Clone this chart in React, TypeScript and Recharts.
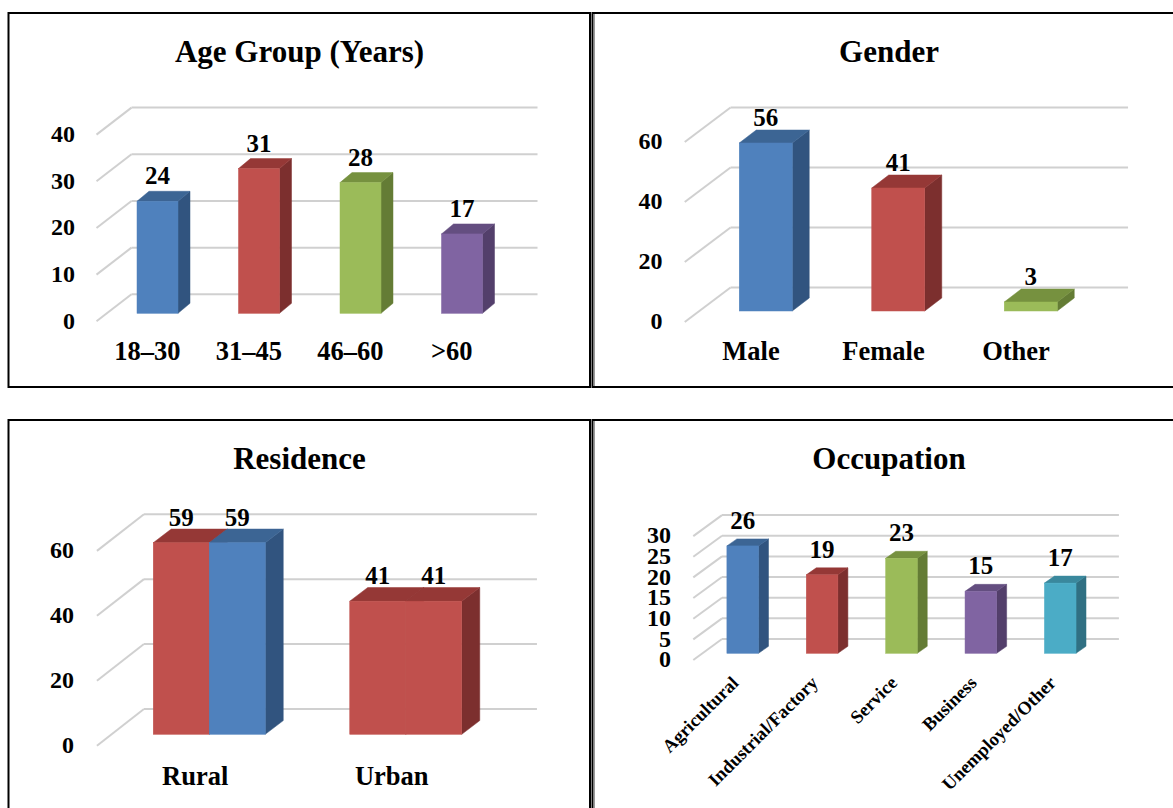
import React from 'react';
import { BarChart, Bar, XAxis, YAxis, CartesianGrid, LabelList } from 'recharts';

// ---------- data ----------
const ageCategories = ['18–30', '31–45', '46–60', '>60'];
const ageValues = [24, 31, 28, 17];
const ageTicks = [0, 10, 20, 30, 40];

const genderCategories = ['Male', 'Female', 'Other'];
const genderValues = [56, 41, 3];
const genderTicks = [0, 20, 40, 60];

const residenceCategories = ['Rural', 'Urban'];
const residenceSeriesA = [59, 41];
const residenceSeriesB = [59, 41];
const residenceTicks = [0, 20, 40, 60];

const occupationCategories = ['Agricultural', 'Industrial/Factory', 'Service', 'Business', 'Unemployed/Other'];
const occupationValues = [26, 19, 23, 15, 17];
const occupationTicks = [0, 5, 10, 15, 20, 25, 30];

// ---------- styles ----------
const FONT = '"Liberation Serif", "Times New Roman", Times, serif';
const BLUE = { front: '#4F81BD', top: '#3C6594', side: '#31547F' };
const RED = { front: '#C0504D', top: '#953836', side: '#7C2F2E' };
const GREEN = { front: '#9BBB59', top: '#76913F', side: '#647C35' };
const PURPLE = { front: '#8064A2', top: '#644E80', side: '#533F6B' };
const TEAL = { front: '#4BACC6', top: '#3A889D', side: '#307083' };
const GRID = '#D0D0D0';

type Pal = { front: string; top: string; side: string };

type Cfg = {
  box: { l: number; t: number; w: number; h: number };
  plot: { l: number; r: number; t: number; b: number };
  front: [number, number];
  back: [number, number];
  depth: [number, number];
  barSize: number;
  yLabelRight: number;
  xBaseline: number;
  rotateX?: boolean;
};

function Box3D(props: any) {
  const { x, y, width, height, pal, dx, dy } = props;
  const X = Number(x), Y = Number(y), W = Number(width), H = Math.max(Number(height), 0);
  if (!(W > 0)) return null;
  return (
    <g>
      <polygon
        points={`${X + W},${Y} ${X + W + dx},${Y - dy} ${X + W + dx},${Y + H - dy} ${X + W},${Y + H}`}
        fill={pal.side}
        stroke={pal.side}
        strokeWidth={0.5}
      />
      <polygon
        points={`${X},${Y} ${X + dx},${Y - dy} ${X + W + dx},${Y - dy} ${X + W},${Y}`}
        fill={pal.top}
        stroke={pal.top}
        strokeWidth={0.5}
      />
      <rect x={X} y={Y} width={W} height={H} fill={pal.front} stroke={pal.front} strokeWidth={0.5} />
    </g>
  );
}

type SeriesDef = { key: string; palettes: Pal[] };

function Chart3D({
  cfg,
  data,
  series,
  ticks,
}: {
  cfg: Cfg;
  data: any[];
  series: SeriesDef[];
  ticks: number[];
}) {
  const { box, plot, front, back, depth } = cfg;
  const YW = 1;
  const XH = 1;
  const margin = {
    left: plot.l - box.l - YW,
    right: box.l + box.w - plot.r,
    top: plot.t - box.t,
    bottom: box.t + box.h - plot.b - XH,
  };
  const [fx, fy] = front;
  const [bx, by] = back;

  const gridLine = (p: any) => {
    const x1 = Number(p.x1), x2 = Number(p.x2), y1 = Number(p.y1);
    return (
      <g key={p.key ?? `gl-${p.index}`}>
        <line x1={x1 + fx} y1={y1 + fy} x2={x1 + bx} y2={y1 + by} stroke={GRID} strokeWidth={2} />
        <line x1={x1 + bx} y1={y1 + by} x2={x2 + bx} y2={y1 + by} stroke={GRID} strokeWidth={2} />
      </g>
    );
  };

  const yTick = (p: any) => (
    <text
      x={cfg.yLabelRight - box.l}
      y={Number(p.y) + fy + 7.3}
      textAnchor="end"
      fontFamily={FONT}
      fontWeight="bold"
      fontSize={24}
      fill="#000"
    >
      {p.payload.value}
    </text>
  );

  const xTick = (p: any) => {
    if (cfg.rotateX) {
      const ax = Number(p.x) - 3;
      const ay = 684 - box.t;
      return (
        <text
          x={ax}
          y={ay}
          textAnchor="end"
          transform={`rotate(-45 ${ax} ${ay})`}
          fontFamily={FONT}
          fontWeight="bold"
          fontSize={18.5}
          fill="#000"
        >
          {p.payload.value}
        </text>
      );
    }
    return (
      <text
        x={Number(p.x) + fx}
        y={cfg.xBaseline - box.t}
        textAnchor="middle"
        fontFamily={FONT}
        fontWeight="bold"
        fontSize={26.5}
        fill="#000"
      >
        {p.payload.value}
      </text>
    );
  };

  const dataLabel = (p: any) => (
    <text
      x={Number(p.x) + Number(p.width) / 2}
      y={Number(p.y) - 17}
      textAnchor="middle"
      fontFamily={FONT}
      fontWeight="bold"
      fontSize={25}
      fill="#000"
    >
      {p.value}
    </text>
  );

  return (
    <div style={{ position: 'absolute', left: box.l, top: box.t, width: box.w, height: box.h }}>
      <BarChart width={box.w} height={box.h} data={data} margin={margin} barGap={0}>
        <CartesianGrid vertical={false} horizontal={gridLine} />
        <XAxis
          dataKey="name"
          height={XH}
          axisLine={false}
          tickLine={false}
          interval={0}
          tick={xTick}
        />
        <YAxis
          width={YW}
          domain={[0, ticks[ticks.length - 1]]}
          ticks={ticks}
          interval={0}
          axisLine={false}
          tickLine={false}
          tick={yTick}
        />
        {series.map((s) => (
          <Bar
            key={s.key}
            dataKey={s.key}
            barSize={cfg.barSize}
            isAnimationActive={false}
            shape={(p: any) => (
              <Box3D {...p} pal={s.palettes[p.index % s.palettes.length]} dx={depth[0]} dy={depth[1]} />
            )}
          >
            <LabelList dataKey={s.key} content={dataLabel} />
          </Bar>
        ))}
      </BarChart>
    </div>
  );
}

const ageCfg: Cfg = {
  box: { l: 8, t: 12, w: 582, h: 375 },
  plot: { l: 107, r: 513, t: 126.6, b: 313.3 },
  front: [-10.5, 8],
  back: [24.5, -19],
  depth: [12, 10],
  barSize: 41,
  yLabelRight: 75,
  xBaseline: 360,
};
const genderCfg: Cfg = {
  box: { l: 592, t: 12, w: 581, h: 375 },
  plot: { l: 699.25, r: 1096.75, t: 131, b: 311 },
  front: [-14.5, 11],
  back: [31.3, -23.5],
  depth: [17, 13],
  barSize: 53,
  yLabelRight: 662.5,
  xBaseline: 360,
};
const residenceCfg: Cfg = {
  box: { l: 8, t: 420, w: 582, h: 388 },
  plot: { l: 111.25, r: 504.25, t: 539.5, b: 734.3 },
  front: [-14.3, 11.4],
  back: [32.7, -25.3],
  depth: [18, 13.7],
  barSize: 56,
  yLabelRight: 74,
  xBaseline: 785,
};
const occupationCfg: Cfg = {
  box: { l: 592, t: 420, w: 581, h: 388 },
  plot: { l: 702.9, r: 1099.8, t: 529.4, b: 653.3 },
  front: [-9.6, 6.7],
  back: [19.1, -14.3],
  depth: [10, 7],
  barSize: 31.6,
  yLabelRight: 671,
  xBaseline: 684,
  rotateX: true,
};

const ageData = ageCategories.map((name, i) => ({ name, value: ageValues[i] }));
const genderData = genderCategories.map((name, i) => ({ name, value: genderValues[i] }));
const residenceData = residenceCategories.map((name, i) => ({
  name,
  a: residenceSeriesA[i],
  b: residenceSeriesB[i],
}));
const occupationData = occupationCategories.map((name, i) => ({ name, value: occupationValues[i] }));

const titles = [
  { text: 'Age Group (Years)', x: 299.5, y: 61.7 },
  { text: 'Gender', x: 889, y: 61.7 },
  { text: 'Residence', x: 299.5, y: 469 },
  { text: 'Occupation', x: 889, y: 469 },
];

export default function App() {
  return (
    <div
      style={{
        position: 'absolute',
        left: 0,
        top: 0,
        width: 1173,
        height: 808,
        overflow: 'hidden',
        background: '#fff',
      }}
    >
      <Chart3D cfg={ageCfg} data={ageData} series={[{ key: 'value', palettes: [BLUE, RED, GREEN, PURPLE] }]} ticks={ageTicks} />
      <Chart3D cfg={genderCfg} data={genderData} series={[{ key: 'value', palettes: [BLUE, RED, GREEN] }]} ticks={genderTicks} />
      <Chart3D
        cfg={residenceCfg}
        data={residenceData}
        series={[
          { key: 'a', palettes: [RED, RED] },
          { key: 'b', palettes: [BLUE, RED] },
        ]}
        ticks={residenceTicks}
      />
      <Chart3D
        cfg={occupationCfg}
        data={occupationData}
        series={[{ key: 'value', palettes: [BLUE, RED, GREEN, PURPLE, TEAL] }]}
        ticks={occupationTicks}
      />
      <svg
        width={1173}
        height={808}
        style={{ position: 'absolute', left: 0, top: 0, pointerEvents: 'none' }}
      >
        {/* panel frames */}
        <rect x={8.5} y={13} width={581.5} height={374} fill="none" stroke="#000" strokeWidth={2} />
        <polyline points="1180,13 592.5,13 592.5,387 1180,387" fill="none" stroke="#000" strokeWidth={2} />
        <line x1={594.5} y1={14} x2={594.5} y2={386} stroke="#9a9a9a" strokeWidth={1} />
        <polyline points="8.5,820 8.5,420 590,420 590,820" fill="none" stroke="#000" strokeWidth={2} />
        <polyline points="1180,420 592.5,420 592.5,820" fill="none" stroke="#000" strokeWidth={2} />
        <line x1={594.5} y1={421} x2={594.5} y2={808} stroke="#9a9a9a" strokeWidth={1} />
        {titles.map((t) => (
          <text
            key={t.text}
            x={t.x}
            y={t.y}
            textAnchor="middle"
            fontFamily={FONT}
            fontWeight="bold"
            fontSize={31}
            fill="#000"
          >
            {t.text}
          </text>
        ))}
      </svg>
    </div>
  );
}
